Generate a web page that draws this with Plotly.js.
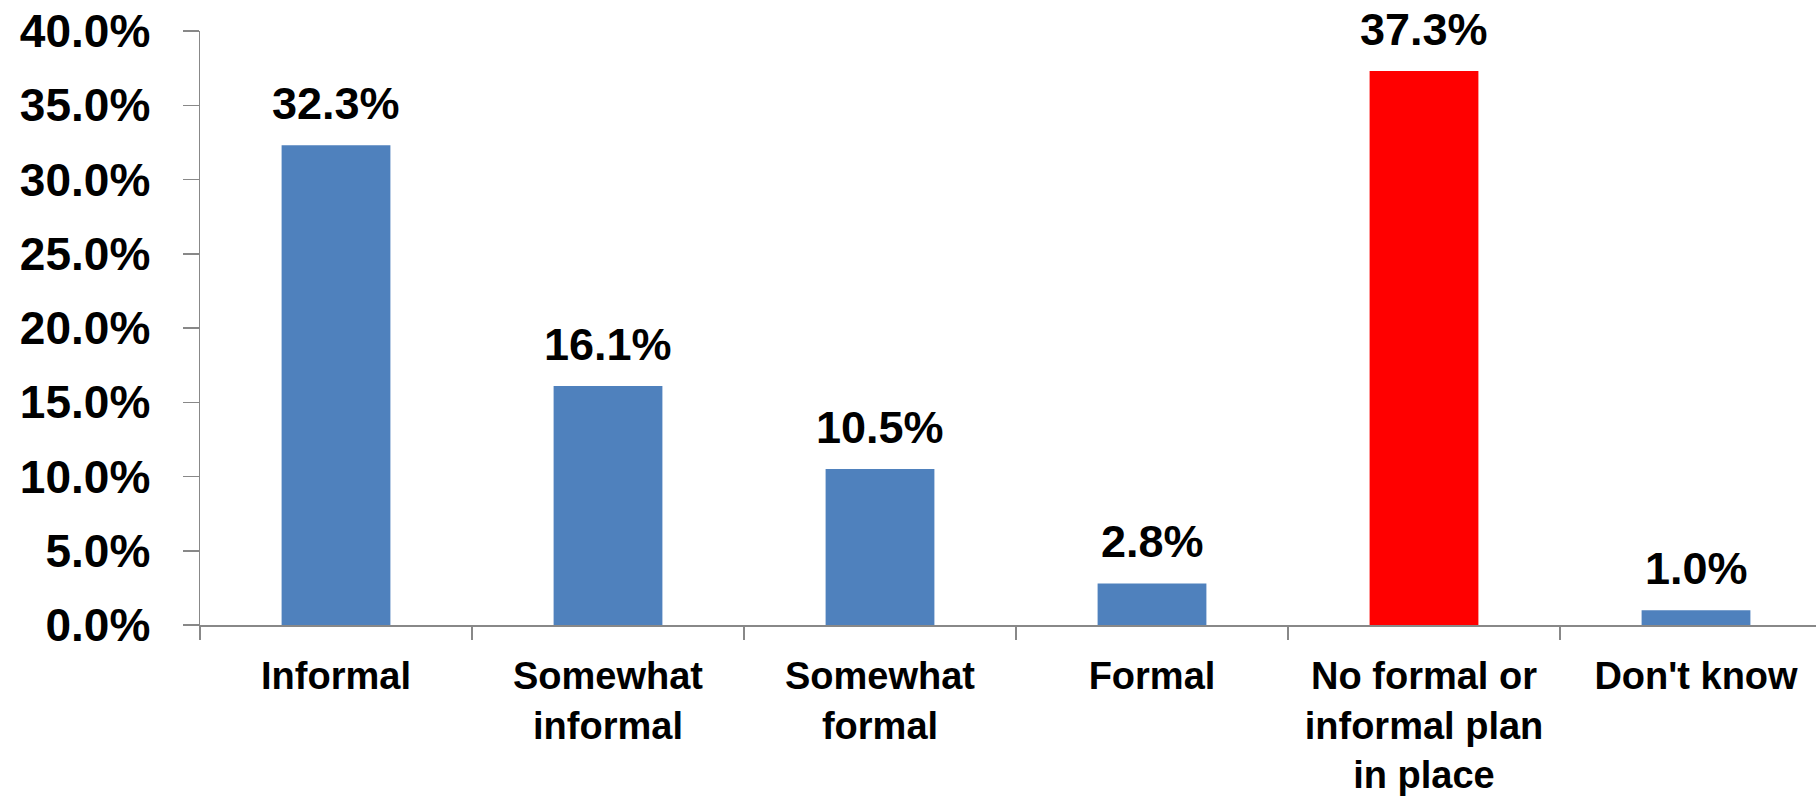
<!DOCTYPE html>
<html>
<head>
<meta charset="utf-8">
<script src="https://cdn.plot.ly/plotly-3.0.1.min.js"></script>
<style>
  html, body { margin: 0; padding: 0; background: #ffffff; }
  #chart { width: 1816px; height: 805px; }
</style>
</head>
<body>
<div id="chart"></div>
<script>
// Data
const categories = ["Informal", "Somewhat informal", "Somewhat formal", "Formal", "No formal or informal plan in place", "Don't know"];
const tickLabels = ["Informal", "Somewhat<br>informal", "Somewhat<br>formal", "Formal", "No formal or<br>informal plan<br>in place", "Don't know"];
const values = [32.3, 16.1, 10.5, 2.8, 37.3, 1.0];
const barColors = ["#4F81BD", "#4F81BD", "#4F81BD", "#4F81BD", "#FF0000", "#4F81BD"];
const yTickVals = [0, 5, 10, 15, 20, 25, 30, 35, 40];
const yTickText = ["0.0%", "5.0%", "10.0%", "15.0%", "20.0%", "25.0%", "30.0%", "35.0%", "40.0%"];

const FONT = "'Liberation Sans', Arial, sans-serif";

const trace = {
  type: "bar",
  x: categories,
  y: values,
  marker: { color: barColors, line: { width: 0 } },
  hoverinfo: "skip"
};

const annotations = categories.map((c, i) => ({
  x: c,
  y: values[i],
  xref: "x",
  yref: "y",
  text: values[i].toFixed(1) + "%",
  showarrow: false,
  yanchor: "bottom",
  xanchor: "center",
  yshift: 14,
  font: { family: FONT, size: 45, color: "#000000", weight: "bold" }
}));

const layout = {
  width: 1816,
  height: 805,
  margin: { l: 200, r: 0, t: 31, b: 180, pad: 0 },
  paper_bgcolor: "#ffffff",
  plot_bgcolor: "#ffffff",
  showlegend: false,
  bargap: 0.6,
  xaxis: {
    type: "category",
    range: [-0.5, -0.5 + 1616 / 272],
    tickmode: "array",
    tickvals: categories,
    ticktext: tickLabels,
    tickson: "boundaries",
    ticks: "outside",
    ticklen: 13,
    tickwidth: 1.5,
    tickcolor: "#888888",
    showline: true,
    linecolor: "#888888",
    linewidth: 1.5,
    showgrid: false,
    zeroline: false,
    tickangle: 0,
    ticklabelstandoff: 17,
    tickfont: { family: FONT, size: 38, color: "#000000", weight: "bold" },
    fixedrange: true
  },
  yaxis: {
    range: [0, 40],
    tickmode: "array",
    tickvals: yTickVals,
    ticktext: yTickText,
    ticks: "outside",
    ticklen: 16,
    tickwidth: 1.5,
    tickcolor: "#888888",
    showline: true,
    linecolor: "#888888",
    linewidth: 1.5,
    showgrid: false,
    zeroline: false,
    ticklabelstandoff: 23,
    tickfont: { family: FONT, size: 46, color: "#000000", weight: "bold" },
    fixedrange: true
  },
  annotations: annotations
};

Plotly.newPlot("chart", [trace], layout, { staticPlot: true, displayModeBar: false });
</script>
</body>
</html>
